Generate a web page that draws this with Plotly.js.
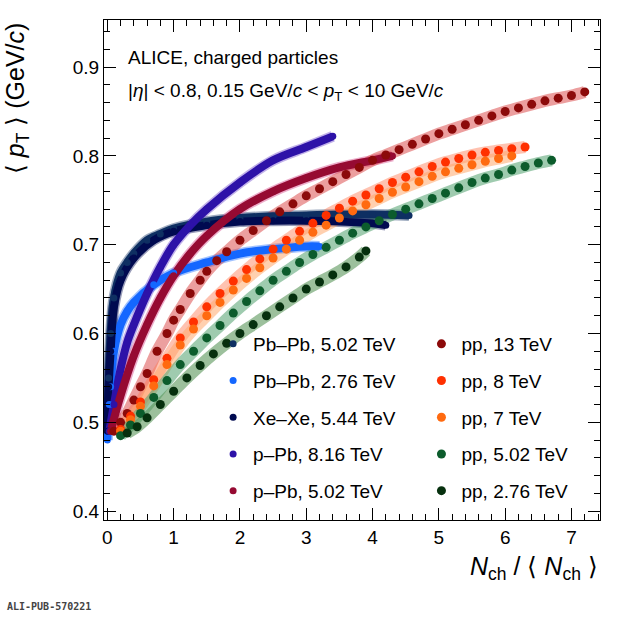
<!DOCTYPE html>
<html><head><meta charset="utf-8">
<script src="https://cdn.plot.ly/plotly-3.0.1.min.js"></script>
<style>body{margin:0;background:#fff}#c{width:620px;height:620px}</style>
</head><body><div id="c"></div>
<script>
// values
const pbpb502X = [0, 0.02, 0.05, 0.1, 0.2, 0.3, 0.4, 0.6, 0.8, 1, 1.5, 2, 2.5, 3, 3.5, 4, 4.55];
const pbpb502Y = [0.49, 0.55, 0.6, 0.64, 0.668, 0.68, 0.69, 0.705, 0.712, 0.718, 0.726, 0.73, 0.732, 0.733, 0.734, 0.734, 0.733];
const pbpb276X = [0, 0.03, 0.05, 0.1, 0.2, 0.3, 0.4, 0.7, 1, 1.5, 2, 2.5, 3, 3.2];
const pbpb276Y = [0.48, 0.52, 0.54, 0.58, 0.61, 0.625, 0.635, 0.655, 0.668, 0.68, 0.69, 0.695, 0.698, 0.698];
const xexeX = [0, 0.02, 0.05, 0.1, 0.2, 0.4, 0.7, 1, 1.5, 2, 2.5, 3, 3.5, 4, 4.2];
const xexeY = [0.49, 0.54, 0.58, 0.63, 0.66, 0.685, 0.705, 0.715, 0.722, 0.726, 0.727, 0.727, 0.726, 0.724, 0.722];
const ppb816X = [0.03, 0.1, 0.2, 0.3, 0.4, 0.6, 0.8, 1, 1.25, 1.5, 2, 2.5, 3, 3.4];
const ppb816Y = [0.49, 0.52, 0.56, 0.59, 0.61, 0.645, 0.675, 0.7, 0.722, 0.74, 0.77, 0.795, 0.81, 0.822];
const ppb502X = [0.05, 0.2, 0.4, 0.6, 0.8, 1, 1.25, 1.5, 2, 2.5, 3, 3.5, 4, 4.3];
const ppb502Y = [0.49, 0.53, 0.575, 0.61, 0.64, 0.665, 0.69, 0.71, 0.74, 0.76, 0.775, 0.787, 0.795, 0.8];
const pp13X = [0.1, 0.2, 0.3, 0.4, 0.5, 0.6, 0.75, 0.9, 1, 1.1, 1.25, 1.4, 1.5, 1.65, 1.8, 2, 2.2, 2.4, 2.6, 2.8, 3, 3.2, 3.4, 3.6, 3.8, 4, 4.2, 4.4, 4.6, 4.8, 5, 5.2, 5.4, 5.6, 5.8, 6, 6.2, 6.4, 6.6, 6.8, 7, 7.2];
const pp13Y = [0.49, 0.5, 0.51, 0.525, 0.54, 0.555, 0.58, 0.6, 0.615, 0.627, 0.645, 0.66, 0.67, 0.682, 0.692, 0.705, 0.716, 0.727, 0.737, 0.746, 0.755, 0.763, 0.771, 0.779, 0.787, 0.795, 0.801, 0.807, 0.813, 0.819, 0.825, 0.83, 0.835, 0.84, 0.845, 0.85, 0.854, 0.858, 0.862, 0.865, 0.868, 0.872];
const pp8X = [0.2, 0.35, 0.5, 0.7, 0.9, 1.1, 1.3, 1.5, 1.7, 1.9, 2.1, 2.3, 2.5, 2.7, 2.9, 3.1, 3.3, 3.5, 3.7, 3.9, 4.1, 4.3, 4.5, 4.7, 4.9, 5.1, 5.3, 5.5, 5.7, 5.9, 6.1, 6.3];
const pp8Y = [0.492, 0.507, 0.523, 0.548, 0.572, 0.595, 0.613, 0.63, 0.645, 0.659, 0.672, 0.684, 0.695, 0.705, 0.715, 0.724, 0.733, 0.741, 0.749, 0.756, 0.763, 0.77, 0.776, 0.782, 0.788, 0.793, 0.797, 0.801, 0.804, 0.806, 0.808, 0.81];
const pp7X = [0.2, 0.35, 0.5, 0.7, 0.9, 1.1, 1.3, 1.5, 1.7, 1.9, 2.1, 2.3, 2.5, 2.7, 2.9, 3.1, 3.3, 3.5, 3.7, 3.9, 4.1, 4.3, 4.5, 4.7, 4.9, 5.1, 5.3, 5.5, 5.7, 5.9, 6.1];
const pp7Y = [0.49, 0.503, 0.518, 0.541, 0.565, 0.587, 0.605, 0.62, 0.635, 0.649, 0.662, 0.674, 0.685, 0.695, 0.705, 0.714, 0.722, 0.73, 0.738, 0.745, 0.752, 0.759, 0.765, 0.771, 0.777, 0.782, 0.786, 0.79, 0.794, 0.797, 0.8];
const pp502X = [0.2, 0.35, 0.5, 0.7, 0.9, 1.1, 1.3, 1.5, 1.7, 1.9, 2.1, 2.3, 2.5, 2.7, 2.9, 3.1, 3.3, 3.5, 3.7, 3.9, 4.1, 4.3, 4.5, 4.7, 4.9, 5.1, 5.3, 5.5, 5.7, 5.9, 6.1, 6.3, 6.5, 6.7];
const pp502Y = [0.485, 0.497, 0.51, 0.528, 0.547, 0.565, 0.58, 0.595, 0.609, 0.623, 0.636, 0.648, 0.66, 0.67, 0.68, 0.689, 0.697, 0.705, 0.713, 0.72, 0.727, 0.734, 0.74, 0.746, 0.752, 0.758, 0.764, 0.77, 0.775, 0.779, 0.784, 0.788, 0.792, 0.795];
const pp276X = [0.3, 0.45, 0.6, 0.8, 1, 1.2, 1.4, 1.6, 1.8, 2, 2.2, 2.4, 2.6, 2.8, 3, 3.2, 3.4, 3.6, 3.8, 3.9];
const pp276Y = [0.488, 0.495, 0.505, 0.52, 0.535, 0.55, 0.564, 0.577, 0.589, 0.6, 0.61, 0.62, 0.63, 0.64, 0.65, 0.658, 0.666, 0.675, 0.686, 0.693];

const series = [
  // [name, x, y, colour, band colour, dense, legend]
  ['Pb\u2013Pb, 5.02 TeV', pbpb502X, pbpb502Y, '#0e2f62', 'rgba(14,47,98,0.4)', true, 'legend'],
  ['Pb\u2013Pb, 2.76 TeV', pbpb276X, pbpb276Y, '#1467ff', 'rgba(20,103,255,0.4)', true, 'legend'],
  ['Xe\u2013Xe, 5.44 TeV', xexeX, xexeY, '#000a50', 'rgba(0,10,80,0.4)', true, 'legend'],
  ['p\u2013Pb, 8.16 TeV', ppb816X, ppb816Y, '#2d12a8', 'rgba(100,60,200,0.4)', true, 'legend'],
  ['p\u2013Pb, 5.02 TeV', ppb502X, ppb502Y, '#960a32', 'rgba(220,90,150,0.5)', true, 'legend'],
  ['pp, 13 TeV', pp13X, pp13Y, '#8c0a0a', 'rgba(220,80,80,0.55)', false, 'legend2'],
  ['pp, 8 TeV', pp8X, pp8Y, '#ff3000', 'rgba(255,120,80,0.45)', false, 'legend2'],
  ['pp, 7 TeV', pp7X, pp7Y, '#ff6a10', 'rgba(255,170,110,0.55)', false, 'legend2'],
  ['pp, 5.02 TeV', pp502X, pp502Y, '#0c5c2c', 'rgba(80,160,110,0.55)', false, 'legend2'],
  ['pp, 2.76 TeV', pp276X, pp276Y, '#06300e', 'rgba(90,150,90,0.6)', false, 'legend2']
];

const traces = [];
// systematic bands, then the dense curves, then points (legend entries)
for (const [name, x, y, col, band, dense] of series) {
  traces.push({ x, y, type: 'scatter', mode: 'lines', showlegend: false, hoverinfo: 'skip',
    line: { color: band, width: dense ? 11 : 12, shape: 'spline' } });
}
for (const [name, x, y, col, band, dense] of series) {
  if (!dense) continue;
  traces.push({ x, y, type: 'scatter', mode: 'lines', showlegend: false, hoverinfo: 'skip',
    line: { color: col, width: 8, shape: 'spline' } });
}
series.forEach(([name, x, y, col, band, dense, leg], i) => {
  traces.push({ x, y, name, legend: leg, legendgroup: 'g' + i, type: 'scatter', mode: 'markers',
    marker: { color: col, size: dense ? 7 : 9 } });
});

const ax = {
  showline: true, linecolor: '#000', linewidth: 1, mirror: 'allticks',
  ticks: 'inside', ticklen: 12, tickwidth: 1, tickcolor: '#000', showgrid: false, zeroline: false,
  tickfont: { family: 'Liberation Sans, Arial, sans-serif', size: 19, color: '#000' },
  minor: { ticks: 'inside', ticklen: 6, tickwidth: 1, tickcolor: '#000', showgrid: false }
};
const legFont = { family: 'Liberation Sans, Arial, sans-serif', size: 19, color: '#000' };
const layout = {
  width: 620, height: 620, paper_bgcolor: '#fff', plot_bgcolor: '#fff',
  margin: { l: 104, r: 20, t: 20, b: 100 },
  xaxis: { ...ax, range: [-0.05, 7.43], dtick: 1, minor: { ...ax.minor, dtick: 0.2 } },
  yaxis: { ...ax, range: [0.39, 0.953], dtick: 0.1, tickformat: '.1f', minor: { ...ax.minor, dtick: 0.02 } },
  legend: { x: 0.22, y: 0.39, xanchor: 'left', yanchor: 'top', bgcolor: 'rgba(0,0,0,0)',
    font: legFont, tracegroupgap: 9, itemwidth: 30 },
  legend2: { x: 0.64, y: 0.39, xanchor: 'left', yanchor: 'top', bgcolor: 'rgba(0,0,0,0)',
    font: legFont, tracegroupgap: 9, itemwidth: 30 },
  annotations: [
    { xref: 'paper', yref: 'paper', x: 0.045, y: 0.925, xanchor: 'left', yanchor: 'middle', showarrow: false,
      text: 'ALICE, charged particles', font: legFont },
    { xref: 'paper', yref: 'paper', x: 0.045, y: 0.857, xanchor: 'left', yanchor: 'middle', showarrow: false,
      text: '|<i>\u03b7</i>| < 0.8, 0.15 GeV/<i>c</i> < <i>p</i><sub>T</sub> < 10 GeV/<i>c</i>', font: legFont },
    { xref: 'paper', yref: 'paper', x: -0.175, y: 1, xanchor: 'center', yanchor: 'top', textangle: -90, showarrow: false,
      text: '\u27e8 <i>p</i><sub>T</sub> \u27e9 (GeV/<i>c</i>)', font: { ...legFont, size: 25 } },
    { xref: 'paper', yref: 'paper', x: 1, y: -0.06, xanchor: 'right', yanchor: 'top', showarrow: false,
      text: '<i>N</i><sub>ch</sub> / \u27e8 <i>N</i><sub>ch</sub> \u27e9', font: { ...legFont, size: 25 } },
    { xref: 'paper', yref: 'paper', x: -0.2, y: -0.172, xanchor: 'left', yanchor: 'middle', showarrow: false,
      text: '<b>ALI-PUB-570221</b>', font: { family: 'DejaVu Sans Mono, monospace', size: 10, color: '#444' } }
  ]
};
Plotly.newPlot('c', traces, layout, { staticPlot: true });
</script></body></html>
